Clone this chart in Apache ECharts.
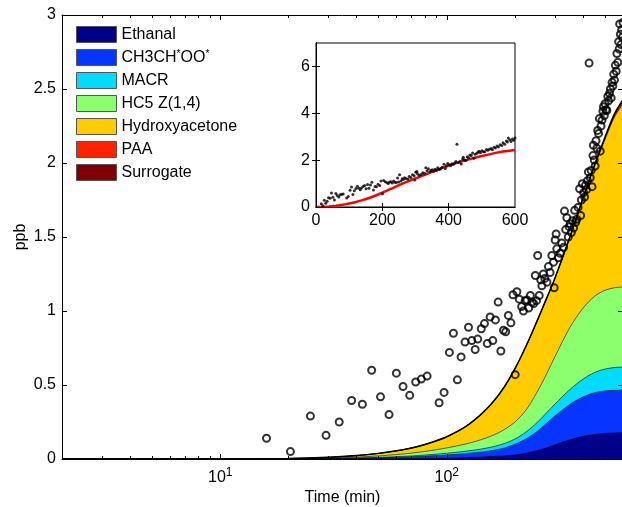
<!DOCTYPE html>
<html>
<head>
<meta charset="utf-8">
<script src="https://cdn.jsdelivr.net/npm/echarts@6/dist/echarts.min.js"></script>
<style>
  html,body{margin:0;padding:0;background:#fff;}
  #chart{width:622px;height:507px;}
</style>
</head>
<body>
<div id="chart"></div>
<script>
(function(){
  const FONT = 'Liberation Sans, Arial, Helvetica, sans-serif';

  // model output times (min) and each species' own contribution (ppb)
  const modelTime      = [2, 10, 20, 30, 40, 50, 60, 70, 80, 90, 100, 120, 140, 160, 180, 200, 225, 250, 275, 300, 350, 400, 450, 500, 550, 600];
  const ethanal        = [0, 0, 0, 0, 0.0005, 0.001, 0.002, 0.003, 0.004, 0.005, 0.006, 0.009, 0.013, 0.017, 0.021, 0.027, 0.040, 0.057, 0.075, 0.095, 0.130, 0.153, 0.166, 0.173, 0.176, 0.178];
  const ch3chOO        = [0, 0, 0.001, 0.002, 0.0045, 0.007, 0.009, 0.012, 0.015, 0.018, 0.021, 0.027, 0.033, 0.041, 0.054, 0.073, 0.098, 0.129, 0.165, 0.195, 0.240, 0.267, 0.282, 0.287, 0.288, 0.287];
  const macr           = [0, 0, 0, 0.001, 0.002, 0.003, 0.005, 0.006, 0.008, 0.010, 0.012, 0.016, 0.020, 0.025, 0.030, 0.035, 0.047, 0.059, 0.070, 0.080, 0.100, 0.120, 0.137, 0.148, 0.154, 0.157];
  const hc5            = [0, 0, 0.001, 0.003, 0.006, 0.010, 0.014, 0.019, 0.024, 0.030, 0.036, 0.048, 0.062, 0.077, 0.095, 0.115, 0.150, 0.205, 0.260, 0.320, 0.420, 0.480, 0.515, 0.532, 0.539, 0.540];
  const hydroxyacetone = [0, 0, 0.001, 0.005, 0.010, 0.017, 0.025, 0.035, 0.047, 0.060, 0.075, 0.115, 0.167, 0.225, 0.290, 0.360, 0.435, 0.480, 0.510, 0.530, 0.610, 0.740, 0.880, 1.020, 1.153, 1.238];
  const paa            = [0, 0, 0, 0, 0, 0, 0, 0, 0, 0, 0, 0, 0, 0, 0, 0, 0, 0, 0, 0, 0.002, 0.004, 0.007, 0.010, 0.014, 0.018];
  const surrogate      = [0, 0, 0, 0, 0, 0, 0, 0, 0, 0, 0, 0, 0, 0, 0, 0, 0, 0, 0, 0, 0.001, 0.002, 0.004, 0.006, 0.008, 0.011];

  // measurements [time (min), ppb]
  const observed = [
    [16,0.14],[20.4,0.05],[25,0.29],[29.3,0.16],[33.5,0.25],[38,0.395],[42.4,0.37],[46.6,0.60],[51,0.42],[55.6,0.30],
    [59.9,0.58],[64.1,0.49],[68.6,0.43],[72.9,0.52],[77.2,0.54],[81.9,0.56],[92.5,0.38],[97.3,0.45],[102.7,0.72],[107,0.85],
    [111.4,0.535],[115.7,0.69],[120.4,0.79],[124.7,0.89],[129,0.80],[133.5,0.74],[137,0.81],[142,0.88],[146.7,0.915],[151,0.78],
    [155.4,0.96],[159.7,0.80],[164,0.94],[168.6,1.06],[173.3,0.73],[178,0.87],[182,0.86],[187,0.97],[192,0.92],[196,1.11],
    [200.5,0.57],[204,1.13],[209,1.08],[214,1.03],[218,1.00],[222,1.07],[226,1.075],[230,1.02],[234,1.105],[238,1.06],
    [242,1.05],[246,1.24],[249,1.07],[252,1.375],[256,1.105],[260,1.21],[263,1.17],[267,1.25],[271,1.22],[277,1.195],
    [281,1.30],[286,1.26],[291,1.375],[296,1.33],[298,1.157],[301,1.48],[304,1.52],[306,1.42],[311,1.36],[317,1.39],
    [322,1.46],[328,1.43],[331,1.675],[335,1.55],[339,1.63],[344,1.50],[347,1.57],[351,1.59],[355,1.53],[359,1.61],
    [363,1.56],[367,1.68],[371,1.60],[375,1.62],[380,1.70],[386,1.826],[390,1.645],[393,1.75],[397,1.86],[402,1.80],
    [406,1.77],[410,1.85],[414,1.82],[418,1.88],[422,1.94],[425,2.675],[430,1.90],[434,1.95],[438,1.84],[442,2.05],
    [444,2.12],[448,2.02],[452,1.98],[456,2.15],[460,2.10],[464,2.22],[468,2.20],[472,2.30],[476,2.08],[480,2.25],
    [485,2.29],[489,2.35],[492,2.38],[496,2.32],[500,2.40],[505,2.36],[509,2.355],[514,2.45],[518,2.42],[523,2.47],
    [528,2.50],[532,2.44],[537,2.545],[541,2.52],[546,2.60],[550,2.56],[555,2.66],[560,2.62],[564,2.74],[569,2.68],
    [574,2.82],[577,2.77],[580,2.94],[584,2.87],[588,2.80],[592,2.90],[596,2.85],[600,2.95]
  ];

  const species = [
    {name:'Ethanal',        color:'#00008a', data:ethanal},
    {name:'CH3CH*OO*',      color:'#0535ff', data:ch3chOO},
    {name:'MACR',           color:'#00dcff', data:macr},
    {name:'HC5 Z(1,4)',     color:'#8cff6e', data:hc5},
    {name:'Hydroxyacetone', color:'#ffcc00', data:hydroxyacetone},
    {name:'PAA',            color:'#ff2200', data:paa},
    {name:'Surrogate',      color:'#800000', data:surrogate}
  ];

  // axis ticks
  const timeMin = 2, timeMax = 600;
  const minorTimeTicks = [3,4,5,6,7,8,9,20,30,40,50,60,70,80,90,200,300,400,500];
  const majorTimeTicks = [10,100];
  const ppbTicks = [0,0.5,1,1.5,2,2.5,3];
  const insetTimeTicks = [0,200,400,600];
  const insetPpbTicks = [0,2,4,6];

  const lg = Math.log10;
  const txt = {fontFamily:FONT, fontSize:16, color:'#000'};
  const black = {color:'#000', width:1};

  // running sums: each band is drawn as an area from 0 up to its cumulative top,
  // topmost band first so the lower ones paint over it
  const cumulative = [];
  species.forEach((sp,i)=>{
    cumulative.push(sp.data.map((v,k)=>v + (i ? cumulative[i-1][k] : 0)));
  });
  const modelTotal = cumulative[cumulative.length-1];

  function timeTickAxis(position, ticks, len, extra){
    return Object.assign({
      type:'value', gridIndex:0, position:position, min:lg(timeMin), max:lg(timeMax),
      axisLine:{show:false}, splitLine:{show:false},
      axisTick:{show:true, inside:true, length:len, customValues:ticks.map(lg), lineStyle:black},
      axisLabel:{show:false}, z:8
    }, extra||{});
  }

  const chart = echarts.init(document.getElementById('chart'), null, {renderer:'canvas'});

  const series = [];
  for(let i=species.length-1;i>=0;i--){
    const sp = species[i];
    series.push({
      name:sp.name, type:'line', xAxisIndex:0, yAxisIndex:0,
      data:modelTime.map((t,k)=>[t, cumulative[i][k]]),
      showSymbol:false, symbol:'none', smooth:0.3,
      itemStyle:{color:sp.color},
      lineStyle:{color:'#000', width: i===species.length-1 ? 1.5 : 0.6},
      areaStyle:{color:sp.color, opacity:1, origin:'start'},
      emphasis:{disabled:true}, silent:true, z:2
    });
  }

  series.push({
    name:'observed', type:'scatter', xAxisIndex:0, yAxisIndex:0,
    data:observed, symbol:'circle', symbolSize:7,
    itemStyle:{color:'rgba(0,0,0,0)', borderColor:'#000', borderWidth:2},
    silent:true, z:5
  });

  series.push({
    name:'model total', type:'line', xAxisIndex:5, yAxisIndex:2,
    data:modelTime.map((t,k)=>[t, modelTotal[k]]),
    showSymbol:false, symbol:'none', smooth:0.3,
    lineStyle:{color:'#ff0000', width:2.5}, silent:true, z:6
  });
  series.push({
    name:'observed inset', type:'scatter', xAxisIndex:5, yAxisIndex:2,
    data:observed, symbol:'circle', symbolSize:3,
    itemStyle:{color:'#000'}, silent:true, z:7
  });

  const insetAxis = {axisLine:{show:true, lineStyle:black}, splitLine:{show:false}, z:8};

  chart.setOption({
    animation:false,
    backgroundColor:'#fff',
    textStyle:{fontFamily:FONT},
    grid:[
      {left:62, top:15, width:561, height:444, outerBoundsMode:'none', containLabel:false},
      {left:316, top:43, width:199, height:164, outerBoundsMode:'none', containLabel:false,
       show:true, backgroundColor:'#fff', borderColor:'#000', borderWidth:1, z:3}
    ],
    legend:{
      orient:'vertical', left:76, top:26, itemWidth:40, itemHeight:16, itemGap:6,
      selectedMode:false, icon:'rect', padding:0, z:9,
      data:species.map(sp=>({name:sp.name, icon:'rect', itemStyle:{color:sp.color, borderColor:'#555', borderWidth:1}})),
      formatter:name=>name==='CH3CH*OO*' ? 'CH3CH{s|*}OO{s|*}' : name,
      textStyle:Object.assign({}, txt, {lineHeight:16,
        rich:{s:{fontFamily:FONT, fontSize:10, color:'#000', lineHeight:8, verticalAlign:'top'}}})
    },
    xAxis:[
      {type:'log', logBase:10, gridIndex:0, min:timeMin, max:timeMax, show:false},
      timeTickAxis('bottom', minorTimeTicks, 3),
      timeTickAxis('bottom', majorTimeTicks, 5, {
        axisLine:{show:true, lineStyle:black},
        axisLabel:Object.assign({show:true, margin:8, lineHeight:22, customValues:majorTimeTicks.map(lg),
          formatter:v=>'10{s|'+Math.round(v)+'}',
          rich:{s:{fontFamily:FONT, fontSize:12, color:'#000', lineHeight:10, verticalAlign:'top'}}}, txt),
        name:'Time (min)', nameLocation:'middle', nameGap:31, nameMoveOverlap:false, nameTextStyle:txt
      }),
      timeTickAxis('top', minorTimeTicks, 3),
      timeTickAxis('top', majorTimeTicks, 5, {axisLine:{show:true, lineStyle:black}}),
      Object.assign({type:'value', gridIndex:1, position:'bottom', min:0, max:600, interval:200,
        axisTick:{inside:true, length:4, customValues:[200,400], lineStyle:black},
        axisLabel:Object.assign({margin:6, customValues:insetTimeTicks}, txt)}, insetAxis),
      Object.assign({type:'value', gridIndex:1, position:'top', min:0, max:600, interval:200,
        axisTick:{inside:true, length:4, customValues:[200,400], lineStyle:black},
        axisLabel:{show:false}}, insetAxis)
    ],
    yAxis:[
      {type:'value', gridIndex:0, position:'left', min:0, max:3, interval:0.5,
        axisLine:{show:true, lineStyle:black}, splitLine:{show:false},
        axisTick:{inside:true, length:5, customValues:ppbTicks, lineStyle:black},
        axisLabel:Object.assign({margin:6, customValues:ppbTicks}, txt),
        name:'ppb', nameLocation:'middle', nameGap:33, nameMoveOverlap:false, nameTextStyle:txt, z:8},
      {type:'value', gridIndex:0, position:'right', min:0, max:3, interval:0.5,
        axisLine:{show:true, lineStyle:black}, splitLine:{show:false},
        axisTick:{inside:true, length:5, lineStyle:black}, axisLabel:{show:false}, z:8},
      Object.assign({type:'value', gridIndex:1, position:'left', min:0, max:7,
        axisTick:{inside:true, length:4, customValues:[2,4,6], lineStyle:black},
        axisLabel:Object.assign({margin:6, customValues:insetPpbTicks}, txt)}, insetAxis),
      Object.assign({type:'value', gridIndex:1, position:'right', min:0, max:7,
        axisTick:{inside:true, length:4, customValues:[2,4,6], lineStyle:black},
        axisLabel:{show:false}}, insetAxis)
    ],
    series:series
  });
})();
</script>
</body>
</html>
